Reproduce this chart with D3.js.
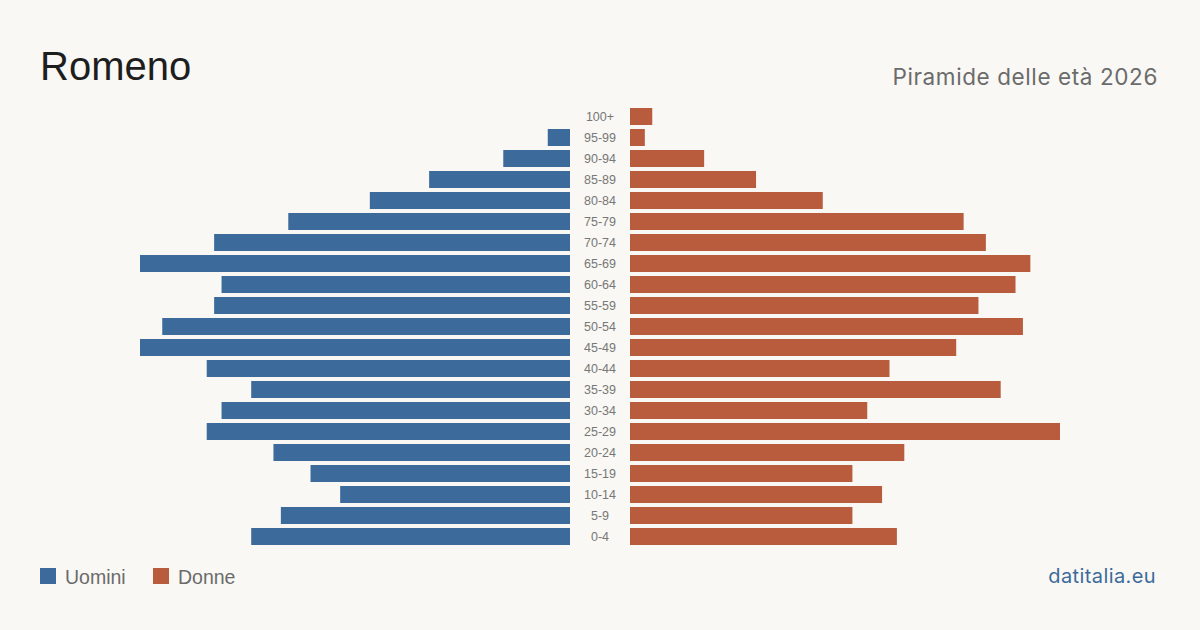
<!DOCTYPE html>
<html><head><meta charset="utf-8">
<script src="https://cdn.jsdelivr.net/npm/d3@7/dist/d3.min.js"></script>
<style>
html,body{margin:0;padding:0;background:#f9f8f4;}
svg{display:block;}
</style></head>
<body>
<svg id="c" width="1200" height="630"></svg>
<script>
const ageGroups = ["100+","95-99","90-94","85-89","80-84","75-79","70-74","65-69","60-64","55-59","50-54","45-49","40-44","35-39","30-34","25-29","20-24","15-19","10-14","5-9","0-4"];
const maleValues   = [0,3,9,19,27,38,48,58,47,48,55,58,49,43,47,49,40,35,31,39,43];
const femaleValues = [3,2,10,17,26,45,48,54,52,47,53,44,35,50,32,58,37,30,34,30,36];
const legendLabels = ["Uomini","Donne"];
const titleText = "Romeno";
const subtitleText = "Piramide delle età 2026";
const sourceText = "datitalia.eu";

const colors = {m:"#3c6b9b", f:"#b95c3d"};
const svg = d3.select("#c");
svg.append("rect").attr("width",1200).attr("height",630).attr("fill","#f9f8f4");

const y = d3.scaleBand().domain(ageGroups).range([106,547]).paddingInner(0.19).paddingOuter(0.095);
const maxV = d3.max([...maleValues, ...femaleValues]);
const xL = d3.scaleLinear().domain([0,maxV]).range([570,140]);
const xR = d3.scaleLinear().domain([0,maxV]).range([630,1060]);

svg.append("g").selectAll("rect").data(ageGroups).join("rect")
  .attr("x",(d,i)=>xL(maleValues[i])).attr("y",d=>y(d))
  .attr("width",(d,i)=>xL(0)-xL(maleValues[i])).attr("height",y.bandwidth())
  .attr("fill",colors.m);
svg.append("g").selectAll("rect").data(ageGroups).join("rect")
  .attr("x",xR(0)).attr("y",d=>y(d))
  .attr("width",(d,i)=>xR(femaleValues[i])-xR(0)).attr("height",y.bandwidth())
  .attr("fill",colors.f);

svg.append("g").selectAll("text").data(ageGroups).join("text")
  .attr("x",600).attr("y",d=>y(d)+y.bandwidth()/2).attr("dy","0.35em")
  .attr("text-anchor","middle").attr("font-family","Liberation Sans, Arial, sans-serif")
  .attr("font-size",12.5).attr("fill","#777").text(d=>d);

svg.append("text").attr("x",40).attr("y",80).attr("font-family","Liberation Sans, Arial, sans-serif")
  .attr("font-size",40).attr("fill","#1e1e1e").text(titleText);
svg.append("text").attr("x",1158).attr("y",85).attr("text-anchor","end").attr("font-family","Inter, sans-serif")
  .attr("font-size",22.5).attr("letter-spacing",0.6).attr("fill","#6b6b6b").text(subtitleText);

const lg = svg.append("g");
const lx = [40,153];
legendLabels.forEach((l,i)=>{
  lg.append("rect").attr("x",lx[i]).attr("y",568).attr("width",16).attr("height",16).attr("fill",i?colors.f:colors.m);
  lg.append("text").attr("x",lx[i]+25).attr("y",583.5).attr("font-family","Liberation Sans, Arial, sans-serif")
    .attr("font-size",19.5).attr("fill","#6b6b6b").text(l);
});
svg.append("text").attr("x",1156).attr("y",583).attr("text-anchor","end").attr("font-family","Inter, sans-serif")
  .attr("font-size",20).attr("letter-spacing",0.4).attr("fill","#3c6b9b").text(sourceText);
</script>
</body></html>
